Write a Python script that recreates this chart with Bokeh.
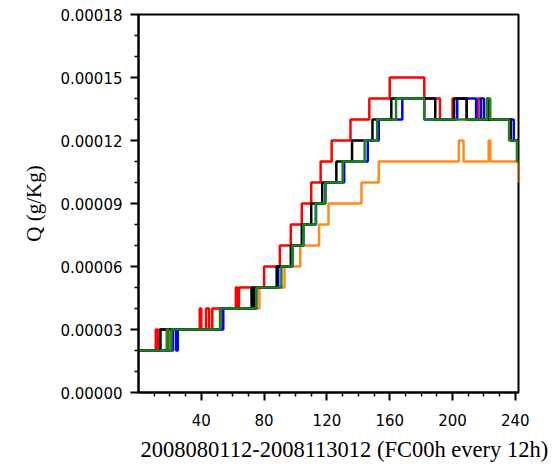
from bokeh.plotting import figure
from bokeh.models import Range1d, FixedTicker, PrintfTickFormatter, Title
from bokeh.embed import file_html
from bokeh.resources import INLINE

# Specific humidity forecasts, stored as step change points:
# each series holds the time index where a new value starts and that value.
red_t = [0, 11, 12, 13, 39, 40, 43, 45, 47, 62, 63, 64, 80, 90, 97, 104, 110, 116,
         123, 135, 147, 160, 182, 192, 200, 209, 216, 218, 237, 242]
red_q = [2e-5, 3e-5, 2e-5, 3e-5, 4e-5, 3e-5, 4e-5, 3e-5, 4e-5, 5e-5, 4e-5, 5e-5,
         6e-5, 7e-5, 8e-5, 9e-5, 10e-5, 11e-5, 12e-5, 13e-5, 14e-5, 15e-5, 14e-5,
         13e-5, 14e-5, 13e-5, 14e-5, 13e-5, 12e-5, 11e-5]

black_t = [0, 14, 52, 72, 73, 74, 88, 97, 104, 110, 117, 126, 136, 149, 161, 189,
           201, 209, 222, 223, 237, 242]
black_q = [2e-5, 3e-5, 4e-5, 5e-5, 4e-5, 5e-5, 6e-5, 7e-5, 8e-5, 9e-5, 10e-5, 11e-5,
           12e-5, 13e-5, 14e-5, 13e-5, 14e-5, 13e-5, 14e-5, 13e-5, 12e-5, 11e-5]

blue_t = [0, 22, 24, 25, 54, 75, 89, 98, 105, 113, 119, 131, 146, 153, 168, 182,
          203, 215, 218, 220, 239, 242]
blue_q = [2e-5, 3e-5, 2e-5, 3e-5, 4e-5, 5e-5, 6e-5, 7e-5, 8e-5, 9e-5, 10e-5, 11e-5,
          12e-5, 13e-5, 14e-5, 13e-5, 14e-5, 13e-5, 14e-5, 13e-5, 12e-5, 11e-5]

green_t = [0, 18, 19, 21, 52, 75, 91, 98, 105, 113, 119, 130, 144, 152, 164, 182,
           222, 224, 236, 241, 242]
green_q = [2e-5, 3e-5, 2e-5, 3e-5, 4e-5, 5e-5, 6e-5, 7e-5, 8e-5, 9e-5, 10e-5, 11e-5,
           12e-5, 13e-5, 14e-5, 13e-5, 14e-5, 13e-5, 12e-5, 11e-5, 11e-5]

orange_t = [0, 20, 53, 77, 93, 103, 115, 121, 142, 153, 204, 207, 223, 224, 242]
orange_q = [2e-5, 3e-5, 4e-5, 5e-5, 6e-5, 7e-5, 8e-5, 9e-5, 10e-5, 11e-5, 12e-5,
            11e-5, 12e-5, 11e-5, 10e-5]

x_major = [40, 80, 120, 160, 200, 240]
x_minor = [10, 20, 30, 50, 60, 70, 90, 100, 110, 130, 140, 150, 170, 180, 190,
           210, 220, 230]
y_major = [0.0, 0.00003, 0.00006, 0.00009, 0.00012, 0.00015, 0.00018]
y_minor = [0.00001, 0.00002, 0.00004, 0.00005, 0.00007, 0.00008, 0.00010, 0.00011,
           0.00013, 0.00014, 0.00016, 0.00017]

x_title = "2008080112-2008113012 (FC00h every 12h)"
y_title = "Q (g/Kg)"

p = figure(width=557, height=469, output_backend="svg", toolbar_location=None,
           x_range=Range1d(0, 242), y_range=Range1d(0, 0.00018))
p.min_border_left = 138
p.min_border_right = 39
p.min_border_top = 14
p.min_border_bottom = 77
p.background_fill_color = "white"
p.border_fill_color = "white"
p.outline_line_color = "black"
p.outline_line_width = 2
p.grid.visible = False

series = [
    (orange_t, orange_q, "#ff8c1a"),
    (red_t, red_q, "#ff0000"),
    (blue_t, blue_q, "#0000ff"),
    (black_t, black_q, "#000000"),
    (green_t, green_q, "#1e821e"),
]
for t, q, c in series:
    p.step(t, q, mode="after", line_color=c, line_width=2.5)

for ax in (p.xaxis[0], p.yaxis[0]):
    ax.axis_line_width = 2
    ax.major_tick_line_width = 2
    ax.minor_tick_line_width = 1.5
    ax.major_tick_in = 0
    ax.major_tick_out = 8
    ax.minor_tick_in = 0
    ax.minor_tick_out = 4
    ax.major_label_text_font = "DejaVu Sans"
    ax.major_label_text_font_size = "15px"
    ax.major_label_text_color = "black"
    ax.axis_label_text_font = "Liberation Serif"
    ax.axis_label_text_font_style = "normal"
    ax.axis_label_text_color = "black"

p.xaxis.ticker = FixedTicker(ticks=x_major, minor_ticks=x_minor)
p.yaxis.ticker = FixedTicker(ticks=y_major, minor_ticks=y_minor)
p.yaxis.formatter = PrintfTickFormatter(format="%.5f")

p.xaxis.major_label_standoff = 13

p.yaxis.axis_label = y_title
p.yaxis.axis_label_text_font_size = "21px"
p.yaxis.major_label_standoff = 8
p.yaxis.axis_label_standoff = 11

# x-axis title starts just right of the frame's left edge
p.add_layout(Title(text=x_title, align="left", offset=2,
                   text_font="Liberation Serif", text_font_size="22.5px",
                   text_font_style="normal", text_color="black",
                   standoff=12), "below")

open("out.html", "w").write(file_html(p, INLINE))
